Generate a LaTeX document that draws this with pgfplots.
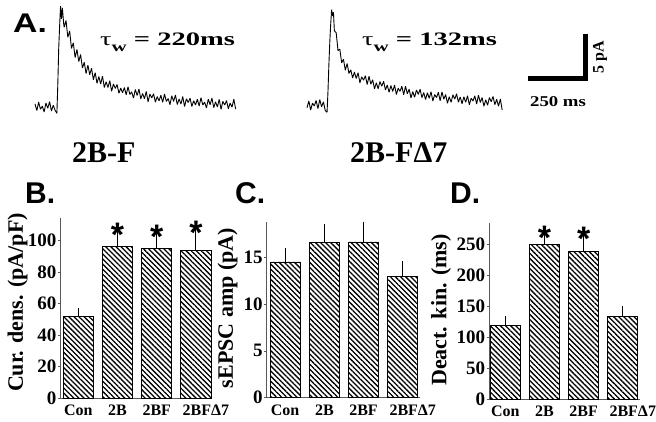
\documentclass[border=0pt]{standalone}
\usepackage{pgfplots}
\pgfplotsset{compat=1.18}
\usetikzlibrary{patterns.meta}
\usepackage{fontspec}
\setmainfont{Liberation Serif}
\newfontfamily\panelfont{Liberation Sans}
\newcommand\fs[1]{\fontsize{#1}{#1}\selectfont}

\pgfplotsset{
  bars/.style={
    scale only axis,
    axis x line*=bottom, axis y line*=left,
    axis line style={draw=black!65, line width=0.8pt},
    xtick={0,1,2,3},
    xticklabels={Con,2B,2BF,\hspace*{20pt}2BFΔ7},
    x tick style={draw=none},
    y tick style={draw=black!65, line width=0.6pt},
    tick align=outside, major tick length=2.5pt,
    ymin=0,
    /pgf/number format/assume math mode=true,
    yticklabel style={font=\bfseries\fs{19}, inner sep=1.5pt},
    xticklabel style={font=\bfseries\fs{16}, inner sep=1pt, yshift=-3pt},
    ybar, bar width=0.77,
    clip=false,
  },
  hatched/.style={draw=black, line width=0.9pt,
    pattern={Lines[angle=-45,distance=3.6pt,line width=1.3pt]}, pattern color=black,
    error bars/.cd, y dir=plus, y explicit,
    error bar style={line width=0.9pt, black},
    error mark=-,
    error mark options={mark size=3.5pt, line width=1pt, black}},
  trace/.style={hide axis, scale only axis, x=0.228pt, y=9pt, clip=false,
    ymin=-1.5, ymax=11.5, xmin=0},
}

\begin{document}
\begin{tikzpicture}
\useasboundingbox (0,0) rectangle (656pt,-421pt);

% A: example traces (t in ms, I in pA)
\begin{axis}[trace, at={(35pt,-120.5pt)}, anchor=south west, xmax=886]
\addplot[black, line width=0.9pt, line join=bevel] coordinates {
(0,0.35) (8,-0.40) (16,0.55) (24,-0.25) (32,0.10) (40,-0.55) (48,0.45) (56,-0.15)
(64,0.60) (72,-0.45) (80,0.20) (88,-0.35) (96,-0.70) (100,2.5) (104,6.5) (108,9.0)
(112,11.2) (116,9.8) (120,11.0) (126,9.2) (128,8.86) (136,9.61) (144,7.75) (152,8.45)
(160,6.51) (168,7.13) (176,5.49) (184,6.40) (192,5.05) (200,5.83) (208,4.34) (216,4.97)
(224,3.72) (232,4.65) (240,3.59) (248,4.31) (256,3.03) (264,3.82) (272,2.63) (280,3.38)
(288,2.55) (296,3.43) (304,2.17) (312,2.81) (320,2.17) (328,2.93) (336,1.74) (344,2.55)
(352,2.07) (360,2.50) (368,1.52) (376,2.10) (384,1.58) (392,2.17) (400,1.35) (408,2.25)
(416,1.39) (424,1.68) (432,0.99) (440,1.94) (448,1.29) (456,2.00) (464,0.90) (472,1.51)
(480,0.92) (488,1.72) (496,0.58) (504,1.44) (512,1.01) (520,1.47) (528,0.54) (536,1.16)
(544,0.68) (552,1.30) (560,0.52) (568,1.44) (576,0.62) (584,0.94) (592,0.26) (600,1.24)
(608,0.62) (616,1.34) (624,0.27) (632,0.90) (640,0.33) (648,1.16) (656,0.04) (664,0.92)
(672,0.50) (680,0.98) (688,0.06) (696,0.70) (704,0.23) (712,0.86) (720,0.10) (728,1.03)
(736,0.22) (744,0.55) (752,-0.11) (760,0.87) (768,0.26) (776,1.00) (784,-0.07) (792,0.57)
(800,0.01) (808,0.85) (816,-0.26) (824,0.63) (832,0.22) (840,0.71) (848,-0.20) (856,0.44)
(864,-0.02) (872,0.88) (880,-0.23)};
\end{axis}

\begin{axis}[trace, at={(307pt,-118.5pt)}, anchor=south west, xmax=860]
\addplot[black, line width=0.9pt, line join=bevel] coordinates {
(0,-0.30) (8,0.45) (16,-0.55) (24,0.20) (32,-0.10) (40,0.50) (48,-0.40) (56,0.60)
(64,-0.20) (72,0.35) (80,-0.60) (88,-0.80) (92,1.5) (96,4.5) (100,7.0) (104,9.0)
(108,10.6) (112,9.9) (116,10.3) (120,8.24) (128,8.02) (136,6.04) (144,6.20) (152,4.68)
(160,5.09) (168,3.85) (176,4.62) (184,3.50) (192,3.91) (200,3.00) (208,3.66) (216,2.94)
(224,3.58) (232,2.48) (240,3.13) (248,2.75) (256,3.26) (264,2.28) (272,3.19) (280,2.32)
(288,2.80) (296,1.79) (304,2.47) (312,1.81) (320,2.60) (328,2.09) (336,2.63) (344,1.67)
(352,2.22) (360,1.41) (368,2.16) (376,1.51) (384,2.21) (392,1.16) (400,1.87) (408,1.52)
(416,2.08) (424,1.14) (432,2.09) (440,1.25) (448,1.76) (456,0.78) (464,1.49) (472,0.85)
(480,1.67) (488,1.18) (496,1.75) (504,0.82) (512,1.38) (520,0.60) (528,1.37) (536,0.74)
(544,1.47) (552,0.44) (560,1.16) (568,0.83) (576,1.41) (584,0.48) (592,1.46) (600,0.64)
(608,1.16) (616,0.19) (624,0.92) (632,0.30) (640,1.13) (648,0.66) (656,1.24) (664,0.32)
(672,0.90) (680,0.14) (688,0.92) (696,0.30) (704,1.03) (712,0.02) (720,0.75) (728,0.44)
(736,1.02) (744,0.11) (752,1.10) (760,0.28) (768,0.82) (776,-0.14) (784,0.59) (792,-0.02)
(800,0.82) (808,0.36) (816,0.95) (824,0.04) (832,0.63) (840,-0.13) (848,0.66) (856,-0.55)};
% scale bar: 250 ms, 5 pA
\draw[line width=5pt, miter limit=4] (axis cs:970,2.89) -- (axis cs:1220,2.89) -- (axis cs:1220,7.89);
\end{axis}

\node[anchor=base west, inner sep=0, font=\panelfont\bfseries\fs{27}] at (13pt,-32pt) {\scalebox{1.25}[1]{A.}};
\node[anchor=base west, inner sep=0, font=\bfseries\fs{19}] at (100pt,-45pt)
  {\scalebox{1.5}[1]{{\mdseries τ}\raisebox{-6pt}{\fs{14}w} = 220ms}};
\node[anchor=base west, inner sep=0, font=\bfseries\fs{19}] at (362pt,-45pt)
  {\scalebox{1.5}[1]{{\mdseries τ}\raisebox{-6pt}{\fs{14}w} = 132ms}};
\node[anchor=base west, inner sep=0, font=\bfseries\fs{30}] at (72pt,-162pt) {2B-F};
\node[anchor=base west, inner sep=0, font=\bfseries\fs{30}] at (350pt,-162pt) {2B-FΔ7};
\node[rotate=90, inner sep=0, font=\bfseries\fs{16}] at (600pt,-57pt) {5 pA};
\node[anchor=base, inner sep=0, font=\bfseries\fs{15}] at (558pt,-106pt) {\scalebox{1.25}[1]{250 ms}};

% B: current density
\begin{axis}[bars, at={(60.7pt,-398pt)}, anchor=south west, width=151.3pt, height=180pt,
  xmin=-0.45, xmax=3.41, ymax=114.4, ytick={0,20,40,60,80,100}]
\addplot[hatched] coordinates {(0,52) +- (0,2.9) (1,96.6) +- (0,7.6) (2,95.1) +- (0,7.9) (3,94) +- (0,11.7)};
\node[anchor=base, inner sep=0, yshift=-12.6pt, font=\panelfont\bfseries\fs{34}] at (axis cs:1,104.2) {*};
\node[anchor=base, inner sep=0, yshift=-12.6pt, font=\panelfont\bfseries\fs{34}] at (axis cs:2,103.0) {*};
\node[anchor=base, inner sep=0, yshift=-12.6pt, font=\panelfont\bfseries\fs{34}] at (axis cs:3,105.7) {*};
\end{axis}

% C: sEPSC amplitude
\begin{axis}[bars, at={(266.7pt,-397.7pt)}, anchor=south west, width=153.3pt, height=176pt,
  xmin=-0.47, xmax=3.44, ymax=18.76, ytick={0,5,10,15}]
\addplot[hatched] coordinates {(0,14.47) +- (0,1.1) (1,16.53) +- (0,1.63) (2,16.6) +- (0,1.8) (3,12.9) +- (0,1.25)};
\end{axis}

% D: deactivation kinetics
\begin{axis}[bars, at={(489.3pt,-399.3pt)}, anchor=south west, width=150.7pt, height=176.6pt,
  xmin=-0.41, xmax=3.44, ymax=284.8, ytick={0,50,100,150,200,250}]
\addplot[hatched] coordinates {(0,118.7) +- (0,10.3) (1,250) +- (0,12) (2,239) +- (0,22) (3,134) +- (0,11)};
\node[anchor=base, inner sep=0, yshift=-12.6pt, font=\panelfont\bfseries\fs{34}] at (axis cs:1,262) {*};
\node[anchor=base, inner sep=0, yshift=-12.6pt, font=\panelfont\bfseries\fs{34}] at (axis cs:2,261) {*};
\end{axis}

\node[rotate=90, font=\bfseries\fs{22}] at (17.5pt,-302.5pt) {Cur. dens. (pA/pF)};
\node[rotate=90, font=\bfseries\fs{22}] at (227.5pt,-308pt) {sEPSC amp (pA)};
\node[rotate=90, font=\bfseries\fs{22}] at (441pt,-310pt) {Deact. kin. (ms)};
\node[anchor=base west, inner sep=0, font=\panelfont\bfseries\fs{30}] at (25pt,-203pt) {B.};
\node[anchor=base west, inner sep=0, font=\panelfont\bfseries\fs{30}] at (235pt,-203pt) {C.};
\node[anchor=base west, inner sep=0, font=\panelfont\bfseries\fs{30}] at (450pt,-203pt) {D.};
\end{tikzpicture}
\end{document}
